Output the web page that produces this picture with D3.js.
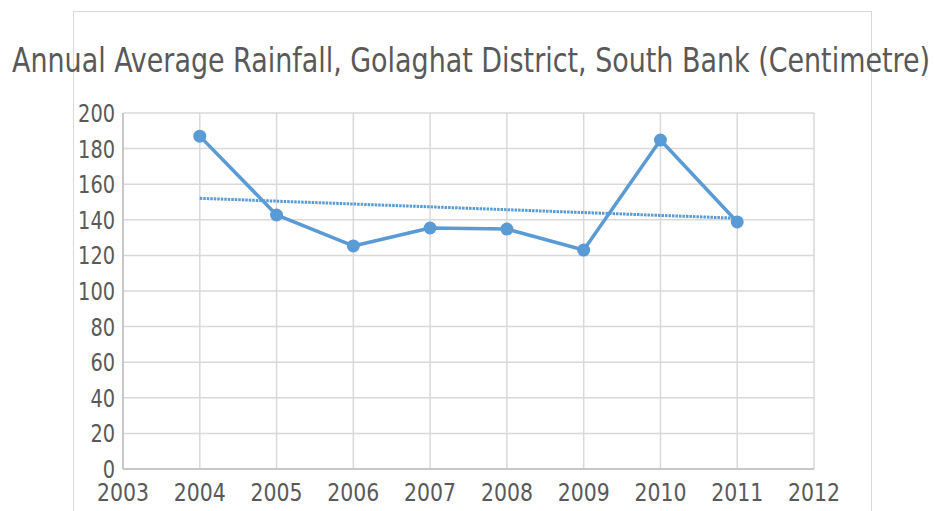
<!DOCTYPE html>
<html>
<head>
<meta charset="utf-8">
<script src="https://cdn.jsdelivr.net/npm/d3@7"></script>
<style>
  body { margin: 0; background: #fff; }
  text { font-family: "DejaVu Sans Condensed", "DejaVu Sans", sans-serif; fill: #595959; }
</style>
</head>
<body>
<script>
// chart data
var years = [2004, 2005, 2006, 2007, 2008, 2009, 2010, 2011];
var rainfall = [187, 142.7, 125.3, 135.4, 134.8, 123, 184.8, 138.8];
var yTicks = [0, 20, 40, 60, 80, 100, 120, 140, 160, 180, 200];
var xTicks = [2003, 2004, 2005, 2006, 2007, 2008, 2009, 2010, 2011, 2012];
var title = "Annual Average Rainfall, Golaghat District, South Bank (Centimetre)";

var width = 935, height = 511;
var plot = {left: 123, right: 814, top: 113, bottom: 469};

var svg = d3.select("body").append("svg")
  .attr("width", width)
  .attr("height", height);

// chart area border
svg.append("rect")
  .attr("x", 73.5).attr("y", 11.5)
  .attr("width", 798).attr("height", 520)
  .attr("fill", "none")
  .attr("stroke", "#d9d9d9");

var x = d3.scaleLinear().domain([2003, 2012]).range([plot.left, plot.right]);
var y = d3.scaleLinear().domain([0, 200]).range([plot.bottom, plot.top]);

// gridlines
svg.append("g").selectAll("line.h")
  .data(yTicks).enter().append("line")
  .attr("x1", plot.left).attr("x2", plot.right)
  .attr("y1", d => y(d)).attr("y2", d => y(d))
  .attr("stroke", "#d9d9d9").attr("stroke-width", 1.5);

svg.append("g").selectAll("line.v")
  .data(xTicks).enter().append("line")
  .attr("x1", d => x(d)).attr("x2", d => x(d))
  .attr("y1", plot.top).attr("y2", plot.bottom)
  .attr("stroke", "#d9d9d9").attr("stroke-width", 1.5);

// axes lines
svg.append("line")
  .attr("x1", plot.left).attr("x2", plot.right)
  .attr("y1", plot.bottom).attr("y2", plot.bottom)
  .attr("stroke", "#bfbfbf").attr("stroke-width", 1.5);
svg.append("line")
  .attr("x1", plot.left).attr("x2", plot.left)
  .attr("y1", plot.top).attr("y2", plot.bottom)
  .attr("stroke", "#bfbfbf").attr("stroke-width", 1.5);

// tick labels (glyphs a bit narrow and tall, like the original)
svg.append("g").selectAll("text")
  .data(yTicks).enter().append("text")
  .attr("x", plot.left - 8)
  .attr("y", d => y(d) + 9)
  .attr("text-anchor", "end")
  .style("font-size", "24px")
  .attr("textLength", d => String(d).length * 12.3)
  .attr("lengthAdjust", "spacingAndGlyphs")
  .text(d => d);

svg.append("g").selectAll("text")
  .data(xTicks).enter().append("text")
  .attr("x", d => x(d))
  .attr("y", 501)
  .attr("text-anchor", "middle")
  .style("font-size", "24px")
  .attr("textLength", 52)
  .attr("lengthAdjust", "spacingAndGlyphs")
  .text(d => d);

// linear trendline (least squares)
var n = years.length;
var mx = d3.mean(years), my = d3.mean(rainfall);
var slope = d3.sum(years, (d, i) => (d - mx) * (rainfall[i] - my)) / d3.sum(years, d => (d - mx) * (d - mx));
var icpt = my - slope * mx;
var trend = [years[0], years[n - 1]];

svg.append("line")
  .attr("x1", x(trend[0])).attr("x2", x(trend[1]))
  .attr("y1", y(icpt + slope * trend[0])).attr("y2", y(icpt + slope * trend[1]))
  .attr("stroke", "#5b9bd5")
  .attr("stroke-width", 3)
  .attr("stroke-dasharray", "2.5,1");

// series line
var line = d3.line()
  .x((d, i) => x(years[i]))
  .y(d => y(d));

svg.append("path")
  .datum(rainfall)
  .attr("d", line)
  .attr("fill", "none")
  .attr("stroke", "#5b9bd5")
  .attr("stroke-width", 3.5)
  .attr("stroke-linejoin", "round");

svg.append("g").selectAll("circle")
  .data(rainfall).enter().append("circle")
  .attr("cx", (d, i) => x(years[i]))
  .attr("cy", d => y(d))
  .attr("r", 6.5)
  .attr("fill", "#5b9bd5");

// title
svg.append("text")
  .attr("x", 471)
  .attr("y", 72)
  .attr("text-anchor", "middle")
  .style("font-size", "33px")
  .attr("textLength", 918)
  .attr("lengthAdjust", "spacingAndGlyphs")
  .text(title);
</script>
</body>
</html>
